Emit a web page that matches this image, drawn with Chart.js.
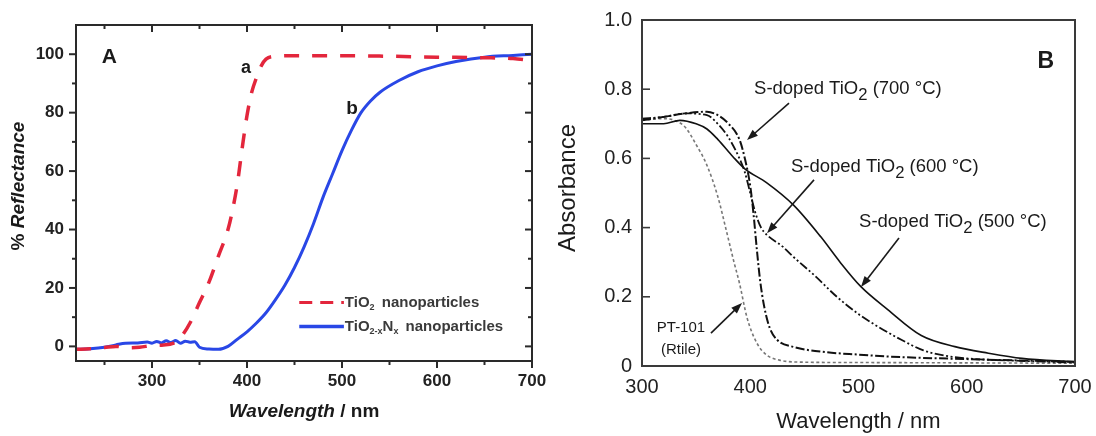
<!DOCTYPE html>
<html>
<head>
<meta charset="utf-8">
<script src="https://cdn.jsdelivr.net/npm/chart.js@4.4.1/dist/chart.umd.min.js"></script>
<style>
  html, body { margin: 0; padding: 0; background: #fff; }
  #wrap { position: relative; width: 1096px; height: 436px; overflow: hidden; }
  #wrap canvas { position: absolute; top: 0; }
  #panelA { left: 0; }
  #panelB { left: 548px; }
</style>
</head>
<body>
<div id="wrap">
  <canvas id="panelA" width="548" height="436"></canvas>
  <canvas id="panelB" width="548" height="436"></canvas>
</div>
<script>
// ---- Panel A: diffuse reflectance (%) vs wavelength (nm) ----
const wlTiO2 = [220, 235, 250, 262, 275, 287, 300, 312, 322, 330, 340, 350, 360, 370, 380, 385, 390, 395, 400, 405, 410, 415, 420, 430, 450, 500, 550, 600, 650, 680, 700];
const reflTiO2 = [-1, -0.8, -0.4, 0, -0.5, -0.3, 0.3, 0.5, 1, 3, 8, 15, 22, 31, 40, 47, 56, 68, 79, 87, 92, 96, 98.3, 99.3, 99.5, 99.5, 99.3, 99, 98.8, 98.5, 97.8];

const wlTiON = [220, 235, 250, 262, 272, 285, 295, 300, 305, 310, 315, 320, 325, 330, 335, 340, 345, 350, 360, 370, 380, 390, 400, 410, 420, 430, 440, 450, 460, 470, 480, 490, 500, 510, 520, 530, 540, 560, 580, 600, 620, 650, 680, 700];
const reflTiON = [-1, -0.8, -0.3, 0.5, 1.1, 1.2, 1.5, 1.1, 1.7, 1.2, 1.9, 1.3, 2.0, 1.1, 1.8, 1.4, 1.6, -0.3, -0.9, -1, 0, 2.5, 5, 8, 11.5, 16, 21, 27, 34, 42, 51, 59, 67, 74, 80, 84, 87, 91, 94, 96, 97.5, 99, 99.6, 100];

const xTicksA = [300, 400, 500, 600, 700];
const xMinorA = [250, 350, 450, 550, 650];
const yTicksA = [0, 20, 40, 60, 80, 100];
const yMinorA = [10, 30, 50, 70, 90];

// ---- Panel B: absorbance vs wavelength (nm) ----
const wl500 = [300, 320, 335, 350, 360, 370, 384, 395, 415, 440, 465, 483, 502, 527, 558, 589, 620, 651, 700];
const abs500 = [0.70, 0.70, 0.71, 0.70, 0.685, 0.655, 0.605, 0.57, 0.53, 0.465, 0.374, 0.30, 0.23, 0.163, 0.088, 0.056, 0.037, 0.022, 0.012];

const wl600 = [300, 320, 340, 360, 370, 380, 390, 395, 400, 405, 410, 415, 430, 440, 460, 480, 500, 520, 540, 560, 580, 600, 650, 700];
const abs600 = [0.715, 0.72, 0.73, 0.725, 0.70, 0.66, 0.60, 0.56, 0.50, 0.44, 0.40, 0.38, 0.345, 0.315, 0.26, 0.20, 0.15, 0.11, 0.075, 0.045, 0.03, 0.022, 0.015, 0.01];

const wl700 = [300, 320, 340, 360, 370, 380, 390, 395, 400, 403, 406, 409, 413, 418, 425, 440, 470, 500, 530, 600, 700];
const abs700 = [0.71, 0.72, 0.73, 0.735, 0.725, 0.70, 0.655, 0.60, 0.52, 0.44, 0.34, 0.25, 0.17, 0.11, 0.075, 0.055, 0.04, 0.033, 0.027, 0.02, 0.012];

const wlPT = [300, 320, 330, 340, 350, 360, 370, 378, 385, 390, 397, 406, 415, 427, 450, 500, 600, 700];
const absPT = [0.71, 0.715, 0.71, 0.69, 0.64, 0.58, 0.49, 0.39, 0.30, 0.24, 0.14, 0.067, 0.032, 0.017, 0.011, 0.01, 0.009, 0.008];

const xTicksB = [300, 400, 500, 600, 700];
const yTicksB = [0, 0.2, 0.4, 0.6, 0.8, 1.0];

const FONT = "'Liberation Sans', Arial, Helvetica, sans-serif";
Chart.defaults.font.family = FONT;

const pts = (xs, ys) => xs.map((x, i) => ({ x, y: ys[i] }));

// text with optional subscript runs: parts = [{t, sub, italic, gap}]
function drawRich(ctx, parts, x, y, base, align) {
  const fontOf = (p) => {
    const size = p.sub ? base.size * (base.subScale || 0.72) : base.size;
    const style = (p.italic ?? base.italic) ? 'italic ' : '';
    return `${style}${base.weight || 'normal'} ${size}px ${FONT}`;
  };
  let total = 0;
  for (const p of parts) { ctx.font = fontOf(p); total += ctx.measureText(p.t).width + (p.gap || 0); }
  let cx = align === 'center' ? x - total / 2 : align === 'right' ? x - total : x;
  ctx.textBaseline = 'middle';
  ctx.textAlign = 'left';
  for (const p of parts) {
    ctx.font = fontOf(p);
    ctx.fillText(p.t, cx, y + (p.sub ? base.size * 0.32 : 0));
    cx += ctx.measureText(p.t).width + (p.gap || 0);
  }
}

function drawArrow(ctx, x1, y1, x2, y2, color) {
  const ang = Math.atan2(y2 - y1, x2 - x1);
  const hl = 11, hw = 4;
  ctx.strokeStyle = color; ctx.fillStyle = color; ctx.lineWidth = 1.6;
  ctx.beginPath();
  ctx.moveTo(x1, y1);
  ctx.lineTo(x2 - Math.cos(ang) * hl * 0.8, y2 - Math.sin(ang) * hl * 0.8);
  ctx.stroke();
  ctx.beginPath();
  ctx.moveTo(x2, y2);
  ctx.lineTo(x2 - Math.cos(ang) * hl + Math.sin(ang) * hw, y2 - Math.sin(ang) * hl - Math.cos(ang) * hw);
  ctx.lineTo(x2 - Math.cos(ang) * hl - Math.sin(ang) * hw, y2 - Math.sin(ang) * hl + Math.cos(ang) * hw);
  ctx.closePath();
  ctx.fill();
}

// frame, tick marks, axis titles and in-plot notes
const decor = {
  id: 'decor',
  afterDatasetsDraw(chart, args, o) {
    const { ctx, chartArea: a, scales } = chart;
    const X = (v) => scales.x.getPixelForValue(v);
    const Y = (v) => scales.y.getPixelForValue(v);
    ctx.save();
    ctx.strokeStyle = o.frameColor;
    ctx.lineWidth = o.frameWidth;
    ctx.strokeRect(a.left, a.top, a.right - a.left, a.bottom - a.top);

    ctx.lineWidth = o.tickWidth;
    for (const t of o.ticks) {
      for (const v of t.values) {
        ctx.beginPath();
        if (t.side === 'bottom' || t.side === 'top') {
          const p = X(v);
          const y0 = t.side === 'top' ? a.top : a.bottom;
          const dir = (t.side === 'top' ? -1 : 1) * (t.inward ? -1 : 1);
          ctx.moveTo(p, y0); ctx.lineTo(p, y0 + dir * t.len);
        } else {
          const p = Y(v);
          const x0 = t.side === 'right' ? a.right : a.left;
          const dir = (t.side === 'right' ? 1 : -1) * (t.inward ? -1 : 1);
          ctx.moveTo(x0, p); ctx.lineTo(x0 + dir * t.len, p);
        }
        ctx.stroke();
      }
    }

    ctx.fillStyle = o.textColor;
    // axis titles
    const xt = o.xTitle;
    drawRich(ctx, xt.parts, (a.left + a.right) / 2 + (xt.dx || 0), xt.y, xt.font, 'center');
    const yt = o.yTitle;
    ctx.save();
    ctx.translate(yt.x, (a.top + a.bottom) / 2 + (yt.dy || 0));
    ctx.rotate(-Math.PI / 2);
    drawRich(ctx, yt.parts, 0, 0, yt.font, 'center');
    ctx.restore();

    // notes placed in data units
    for (const n of o.notes) {
      ctx.fillStyle = n.color || o.textColor;
      drawRich(ctx, n.parts, X(n.x), Y(n.y), n.font, n.align || 'left');
    }
    for (const ar of o.arrows) {
      drawArrow(ctx, X(ar[0]), Y(ar[1]), X(ar[2]), Y(ar[3]), o.textColor);
    }
    for (const k of (o.keys || [])) {
      ctx.strokeStyle = k.color; ctx.lineWidth = k.width;
      ctx.setLineDash(k.dash || []);
      ctx.beginPath();
      ctx.moveTo(X(k.x0), Y(k.y)); ctx.lineTo(X(k.x1), Y(k.y));
      ctx.stroke();
      ctx.setLineDash([]);
    }
    ctx.restore();
  }
};

const fixedTicks = (vals) => (scale) => { scale.ticks = vals.map((v) => ({ value: v })); };
// fixed axis box size, no extra room for overhanging edge labels
const fitX = (h) => (s) => { s.height = h; s.paddingLeft = 0; s.paddingRight = 0; };
const fitY = (w) => (s) => { s.width = w; s.paddingTop = 0; s.paddingBottom = 0; };

// ---------------- Panel A ----------------
const boldA = { size: 19, weight: 'bold' };
const keyFont = { size: 15, weight: 'bold', subScale: 0.6 };
new Chart(document.getElementById('panelA'), {
  type: 'line',
  data: {
    datasets: [
      { label: 'TiO2 nanoparticles', data: pts(wlTiO2, reflTiO2), borderColor: '#e3263c', borderWidth: 3.5,
        borderDash: [15, 13], pointRadius: 0, cubicInterpolationMode: 'monotone' },
      { label: 'TiO2-xNx nanoparticles', data: pts(wlTiON, reflTiON), borderColor: '#2947e6', borderWidth: 3,
        pointRadius: 0, cubicInterpolationMode: 'monotone' }
    ]
  },
  options: {
    responsive: false, animation: false, devicePixelRatio: 1,
    layout: { padding: { left: 0, top: 25, right: 16, bottom: 0 } },
    scales: {
      x: {
        type: 'linear', min: 220, max: 700,
        afterBuildTicks: fixedTicks(xTicksA),
        afterFit: fitX(75),
        grid: { display: false, drawTicks: false }, border: { display: false },
        ticks: { padding: 10, color: '#222', font: { size: 17, weight: 'bold' } }
      },
      y: {
        type: 'linear', min: -5, max: 110,
        afterBuildTicks: fixedTicks(yTicksA),
        afterFit: fitY(76),
        grid: { display: false, drawTicks: false }, border: { display: false },
        ticks: { padding: 12, color: '#222', font: { size: 17, weight: 'bold' } }
      }
    },
    plugins: {
      legend: { display: false }, tooltip: { enabled: false },
      decor: {
        frameColor: '#2a2a2a', frameWidth: 2, tickWidth: 2, textColor: '#1a1a1a',
        ticks: [
          { side: 'bottom', values: xTicksA, len: 7 }, { side: 'bottom', values: xMinorA, len: 4 },
          { side: 'top', values: xTicksA, len: 7, inward: true }, { side: 'top', values: xMinorA, len: 4, inward: true },
          { side: 'left', values: yTicksA, len: 7 }, { side: 'left', values: yMinorA, len: 4 },
          { side: 'right', values: yTicksA, len: 7, inward: true }, { side: 'right', values: yMinorA, len: 4, inward: true }
        ],
        xTitle: { y: 412, dx: 0, font: boldA, parts: [{ t: 'Wavelength', italic: true }, { t: ' / nm' }] },
        yTitle: { x: 19, dy: -7, font: boldA, parts: [{ t: '% ' }, { t: 'Reflectance', italic: true }] },
        notes: [
          { x: 255, y: 99, parts: [{ t: 'A' }], font: { size: 21, weight: 'bold' }, align: 'center' },
          { x: 399, y: 95.4, parts: [{ t: 'a' }], font: { size: 18, weight: 'bold' }, align: 'center' },
          { x: 510.5, y: 81.4, parts: [{ t: 'b' }], font: { size: 19, weight: 'bold' }, align: 'center' },
          { x: 503, y: 15, font: keyFont, color: '#3a3a3a',
            parts: [{ t: 'TiO' }, { t: '2', sub: true, gap: 3 }, { t: ' nanoparticles' }] },
          { x: 503, y: 6.8, font: keyFont, color: '#3a3a3a',
            parts: [{ t: 'TiO' }, { t: '2-x', sub: true }, { t: 'N' }, { t: 'x', sub: true, gap: 3 }, { t: ' nanoparticles' }] }
        ],
        keys: [
          { x0: 455, x1: 502, y: 15, color: '#e3263c', width: 3, dash: [13, 8] },
          { x0: 455, x1: 502, y: 6.8, color: '#2947e6', width: 3.5 }
        ],
        arrows: []
      }
    }
  },
  plugins: [decor]
});

// ---------------- Panel B ----------------
const noteB = { size: 18.5, weight: 'normal', subScale: 0.9 };
new Chart(document.getElementById('panelB'), {
  type: 'line',
  data: {
    datasets: [
      { label: 'S-doped TiO2 (500 °C)', data: pts(wl500, abs500), borderColor: '#111', borderWidth: 1.6,
        pointRadius: 0, cubicInterpolationMode: 'monotone' },
      { label: 'S-doped TiO2 (600 °C)', data: pts(wl600, abs600), borderColor: '#111', borderWidth: 1.8,
        borderDash: [9, 2.5, 2, 2.5, 2, 2.5], pointRadius: 0, cubicInterpolationMode: 'monotone' },
      { label: 'S-doped TiO2 (700 °C)', data: pts(wl700, abs700), borderColor: '#111', borderWidth: 2,
        borderDash: [9, 2.5, 2, 2.5], pointRadius: 0, cubicInterpolationMode: 'monotone' },
      { label: 'PT-101 (Rtile)', data: pts(wlPT, absPT), borderColor: '#777', borderWidth: 1.6,
        borderDash: [3, 2.5], pointRadius: 0, cubicInterpolationMode: 'monotone' }
    ]
  },
  options: {
    responsive: false, animation: false, devicePixelRatio: 1,
    layout: { padding: { left: 0, top: 20, right: 21, bottom: 0 } },
    scales: {
      x: {
        type: 'linear', min: 300, max: 700,
        afterBuildTicks: fixedTicks(xTicksB),
        afterFit: fitX(70),
        grid: { display: false, drawTicks: false }, border: { display: false },
        ticks: { padding: 9, color: '#222', font: { size: 20 } }
      },
      y: {
        type: 'linear', min: 0, max: 1,
        afterBuildTicks: fixedTicks(yTicksB),
        afterFit: fitY(94),
        grid: { display: false, drawTicks: false }, border: { display: false },
        ticks: { padding: 10, color: '#222', font: { size: 20 },
          callback: (v) => (v === 0 ? '0' : v.toFixed(1)) }
      }
    },
    plugins: {
      legend: { display: false }, tooltip: { enabled: false },
      decor: {
        frameColor: '#3a3a3a', frameWidth: 2, tickWidth: 1.6, textColor: '#1a1a1a',
        ticks: [ { side: 'left', values: yTicksB.slice(1, 5), len: 8, inward: true } ],
        xTitle: { y: 422, dx: 0, font: { size: 22 }, parts: [{ t: 'Wavelength / nm' }] },
        yTitle: { x: 20, dy: -5, font: { size: 24 }, parts: [{ t: 'Absorbance' }] },
        notes: [
          { x: 673, y: 0.879, parts: [{ t: 'B' }], font: { size: 23, weight: 'bold' }, align: 'center' },
          { x: 403.5, y: 0.80, font: noteB, parts: [{ t: 'S-doped TiO' }, { t: '2', sub: true }, { t: ' (700 °C)' }] },
          { x: 437.6, y: 0.575, font: noteB, parts: [{ t: 'S-doped TiO' }, { t: '2', sub: true }, { t: ' (600 °C)' }] },
          { x: 500.5, y: 0.416, font: noteB, parts: [{ t: 'S-doped TiO' }, { t: '2', sub: true }, { t: ' (500 °C)' }] },
          { x: 336, y: 0.11, font: { size: 15 }, align: 'center', parts: [{ t: 'PT-101' }] },
          { x: 336, y: 0.046, font: { size: 15 }, align: 'center', parts: [{ t: '(Rtile)' }] }
        ],
        arrows: [
          [435.8, 0.76, 397, 0.653],
          [458.9, 0.538, 415.5, 0.384],
          [537.4, 0.37, 502.3, 0.228],
          [363.7, 0.095, 392.4, 0.182]
        ]
      }
    }
  },
  plugins: [decor]
});
</script>
</body>
</html>
